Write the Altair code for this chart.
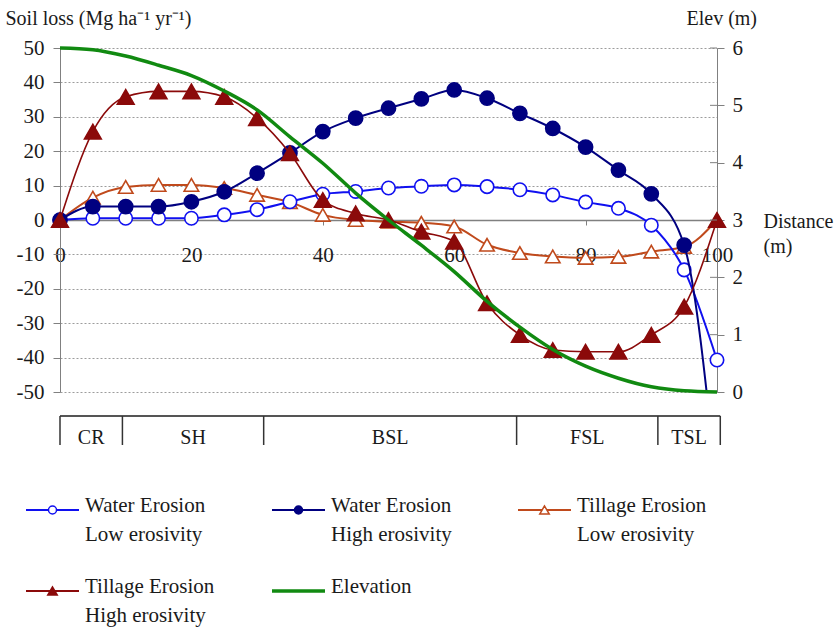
import altair as alt
import pandas as pd

FONT = "Liberation Serif"
INK = "#1a1a1a"
AXIS_GREY = "#808080"

BLUE = "#1010f0"
NAVY = "#000080"
SIENNA = "#c04a1c"
DARKRED = "#8b0a0a"
GREEN = "#118a11"

# Distance downslope (m), sampled every 5 m
distance = list(range(0, 101, 5))

# Soil loss (Mg ha-1 yr-1)
water_low = [0, 0.5, 0.5, 0.5, 0.5, 1.5, 3.0, 5.3, 7.5, 8.3, 9.3, 9.8, 10.2,
             9.7, 8.8, 7.3, 5.2, 3.4, -1.5, -14.5, -40.7]
water_high = [0, 3.9, 3.9, 3.9, 5.3, 8.2, 13.6, 19.5, 25.7, 29.6, 32.5, 35.2,
              37.8, 35.4, 31.0, 26.6, 21.2, 14.5, 7.6, -7.3, -78]
tillage_low = [0, 6.5, 9.6, 10.2, 10.2, 9.3, 7.3, 5.2, 1.5, 0, -0.5, -0.8,
               -1.9, -7.2, -9.6, -10.6, -11.0, -10.7, -9.2, -7.8, 0]
tillage_high = [0, 25.7, 35.8, 37.4, 37.4, 35.8, 29.6, 19.4, 5.8, 1.9, 0,
                -3.4, -6.3, -24.2, -33.4, -37.8, -38.3, -38.3, -33.4, -25.2, 0]

# Elevation (m)
elevation = [6.0, 5.97, 5.86, 5.70, 5.52, 5.25, 4.92, 4.45, 3.99, 3.47, 3.0,
             2.56, 2.10, 1.58, 1.13, 0.74, 0.45, 0.24, 0.09, 0.02, 0.0]

# Landscape positions along the transect
segment_names = ["CR", "SH", "BSL", "FSL", "TSL"]
segment_bounds = [0, 9.5, 31, 69.5, 91, 100.5]

soil_ticks = list(range(-50, 51, 10))
elev_ticks = [0, 1, 2, 3, 4, 5, 6]
distance_ticks = [0, 20, 40, 60, 80, 100]

legend_first = ["Water Erosion", "Water Erosion", "Tillage Erosion",
                "Tillage Erosion", "Elevation"]
legend_second = ["Low erosivity", "High erosivity", "Low erosivity",
                 "High erosivity", ""]

W, H = 657, 344
SOIL_MIN, SOIL_MAX = -50, 50

x_axis = alt.Axis(
    values=distance_ticks, offset=-H / 2, grid=False,
    domainColor=AXIS_GREY, domainWidth=1.5, tickColor=AXIS_GREY, tickSize=5,
    labelFont=FONT, labelFontSize=21, labelColor=INK, labelPadding=19,
    labelFlush=False, labelExpr="'' + datum.value",
    title=["Distance", "(m)"], titleFont=FONT, titleFontSize=20,
    titleFontWeight="normal", titleColor=INK, titleAngle=0,
    titleAlign="left", titleBaseline="alphabetic", titleX=703, titleY=7,
    titleLineHeight=25,
)
y_axis = alt.Axis(
    values=soil_ticks, grid=True, gridDash=[2, 2], gridColor="#9c9c9c",
    domainColor=AXIS_GREY, tickColor=AXIS_GREY, tickSize=7,
    labelFont=FONT, labelFontSize=21, labelColor=INK, labelPadding=9,
    labelExpr="'' + datum.value",
    title="Soil loss (Mg ha\u207b\u00b9 yr\u207b\u00b9)", titleFont=FONT,
    titleFontSize=20, titleFontWeight="normal", titleColor=INK,
    titleAngle=0, titleAlign="left", titleBaseline="middle",
    titleX=-55, titleY=-30,
)
elev_axis = alt.Axis(
    orient="right", values=elev_ticks, grid=False,
    domainColor=AXIS_GREY, tickColor=AXIS_GREY, tickSize=7,
    labelFont=FONT, labelFontSize=21, labelColor=INK, labelPadding=8,
    title="Elev (m)", titleFont=FONT, titleFontSize=20,
    titleFontWeight="normal", titleColor=INK, titleAngle=0,
    titleAlign="left", titleBaseline="middle", titleX=-31, titleY=-30,
)

x_scale = alt.Scale(domain=[0, 100], nice=False, zero=False)
x_enc = alt.X("distance:Q", scale=x_scale, axis=x_axis)
y_enc = alt.Y("value:Q", scale=alt.Scale(domain=[SOIL_MIN, SOIL_MAX], nice=False),
              axis=y_axis)
elev_scale = alt.Scale(domain=[0, 6], nice=False)


def series(values, color, shape, filled, size, width, clip=False):
    df = pd.DataFrame({"distance": distance, "value": values})
    base = alt.Chart(df).encode(x=x_enc, y=y_enc)
    line = base.mark_line(color=color, strokeWidth=width,
                          interpolate="monotone", clip=clip)
    # markers only for values inside the plotted range
    pts = base.transform_filter(
        f"datum.value >= {SOIL_MIN} && datum.value <= {SOIL_MAX}"
    ).mark_point(shape=shape, size=size, filled=True,
                 fill=color if filled else "white", stroke=color,
                 strokeWidth=1.6, opacity=1)
    return [line, pts]


soil_layers = (
    series(tillage_low, SIENNA, "triangle-up", False, 210, 2)
    + series(water_low, BLUE, "circle", False, 180, 2)
    + series(water_high, NAVY, "circle", True, 200, 2, clip=True)
    + series(tillage_high, DARKRED, "triangle-up", True, 280, 1.6)
)

# Landscape-position strip under the plot
TABLE_TOP, TABLE_BOTTOM, TABLE_TEXT = 368, 397, 390
strip_df = pd.DataFrame({"distance": [segment_bounds[0]],
                         "distance_end": [segment_bounds[-1]]})
bounds_df = pd.DataFrame({"distance": segment_bounds})
names_df = pd.DataFrame({
    "distance": [(a + b) / 2 for a, b in zip(segment_bounds[:-1], segment_bounds[1:])],
    "name": segment_names,
})
table_layers = [
    alt.Chart(strip_df).mark_rule(color="#555555", strokeWidth=2).encode(
        x=x_enc, x2="distance_end:Q", y=alt.value(TABLE_TOP)),
    alt.Chart(bounds_df).mark_rule(color="#333333", strokeWidth=1.5).encode(
        x=x_enc, y=alt.value(TABLE_TOP), y2=alt.value(TABLE_BOTTOM)),
    alt.Chart(names_df).mark_text(font=FONT, fontSize=20, color=INK,
                                  baseline="middle").encode(
        x=x_enc, y=alt.value(TABLE_TEXT), text="name:N"),
]

# Hand-built legend below the strip: three columns, two rows
legend_style = [
    (BLUE, "circle", False, 2),
    (NAVY, "circle", True, 2),
    (SIENNA, "triangle-up", False, 2),
    (DARKRED, "triangle-up", True, 2),
    (GREEN, None, True, 3.5),
]
LEG_X0, LEG_COL, LEG_Y0, LEG_ROW, LEG_LEN = -34, 246, 462, 81, 53
one_row = pd.DataFrame({"k": [0]})
legend_layers = []
for i, (first, second, (color, shape, filled, lw)) in enumerate(
        zip(legend_first, legend_second, legend_style)):
    lx = LEG_X0 + (i % 3) * LEG_COL
    ly = LEG_Y0 + (i // 3) * LEG_ROW
    legend_layers.append(
        alt.Chart(one_row).mark_rule(color=color, strokeWidth=lw).encode(
            x=alt.value(lx), x2=alt.value(lx + LEG_LEN), y=alt.value(ly)))
    if shape:
        legend_layers.append(
            alt.Chart(one_row).mark_point(
                shape=shape, size=64 if shape == "circle" else 90, filled=True,
                fill=color if filled else "white", stroke=color,
                strokeWidth=1.5, opacity=1,
            ).encode(x=alt.value(lx + LEG_LEN / 2), y=alt.value(ly)))
    for text, dy in ((first, -4), (second, 25)):
        if text:
            legend_layers.append(
                alt.Chart(one_row).mark_text(
                    text=text, font=FONT, fontSize=21, color=INK,
                    align="left", baseline="middle",
                ).encode(x=alt.value(lx + LEG_LEN + 6), y=alt.value(ly + dy)))

elev_df = pd.DataFrame({"distance": distance, "elev": elevation})
elev_y = alt.Y("elev:Q", scale=elev_scale, axis=elev_axis)
elev_line = alt.Chart(elev_df).mark_line(
    color=GREEN, strokeWidth=3.5, interpolate="monotone"
).encode(x=x_enc, y=elev_y)

# inner half of the crossing ticks on the elevation axis
elev_tick_df = pd.DataFrame({"elev": elev_ticks})
elev_inner_ticks = alt.Chart(elev_tick_df).mark_rule(
    color=AXIS_GREY, strokeWidth=1
).encode(x=alt.value(W - 7), x2=alt.value(W), y=elev_y)

left_group = alt.layer(*soil_layers, *table_layers, *legend_layers)
right_group = alt.layer(elev_inner_ticks, elev_line)

chart = (
    alt.layer(left_group, right_group)
    .resolve_scale(y="independent")
    .properties(
        width=W, height=H, autosize="none",
        padding={"left": 60, "top": 48, "right": 120, "bottom": 237},
        background="white",
    )
    .configure_view(stroke=None)
)

chart.save("out.html", embed_options={"renderer": "svg", "actions": False})
